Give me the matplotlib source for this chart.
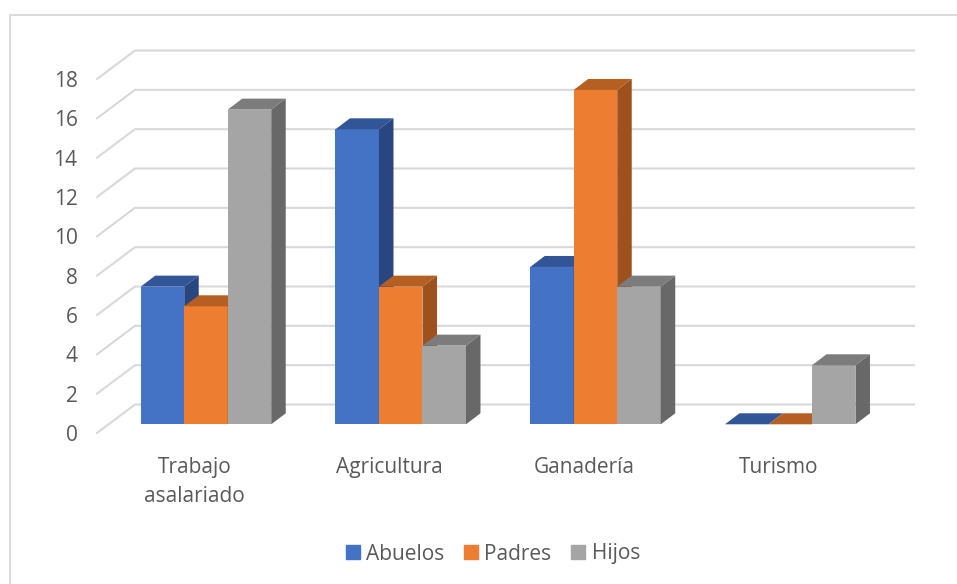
#!/usr/bin/env python3
import numpy as np
import matplotlib
matplotlib.use("Agg")
import matplotlib.pyplot as plt
from matplotlib.patches import Patch

categories = ["Trabajo\nasalariado", "Agricultura", "Ganadería", "Turismo"]
abuelos = [7, 15, 8, 0]
padres = [6, 7, 17, 0]
hijos = [16, 4, 7, 3]
y_ticks = [0, 2, 4, 6, 8, 10, 12, 14, 16, 18]

W, H = 957, 584
LEFT, RIGHT = 97, 876  # front edge of the floor, px
Y0, Y18 = 433, 79

plt.rcParams["font.family"] = ["Open Sans", "DejaVu Sans"]

series = [
    ("Abuelos", abuelos, "#4472C4", "#325597", "#2A4680"),
    ("Padres", padres, "#ED7D31", "#B55F23", "#9E511C"),
    ("Hijos", hijos, "#A5A5A5", "#7C7C7C", "#686868"),
]

fig = plt.figure(figsize=(W / 100, H / 100), dpi=100)
ax = fig.add_axes([LEFT / W, 1 - Y0 / H, (RIGHT - LEFT) / W, (Y0 - Y18) / H])
ax.set_xlim(-0.5, 3.5)
ax.set_ylim(0, 18)

# px to data units
ux = 4 / (RIGHT - LEFT)
uy = 18 / (Y0 - Y18)
wall_dx, wall_dy = 38 * ux, 28.5 * uy
floor_dx, floor_dy = 11.6 * ux, 8.7 * uy
depth_dx, depth_dy = 14.5 * ux, 11 * uy
bar_w = 43.5 * ux

# walls
grid_color = "#D9D9D9"
for v in y_ticks:
    ax.plot([-0.5, -0.5 + wall_dx, 3.5 + wall_dx], [v, v + wall_dy, v + wall_dy],
            color=grid_color, lw=1.5, clip_on=False, zorder=1, solid_joinstyle="miter")

# bars, left to right so each front hides the side of the previous one
for i, (name, values, front, top, side) in enumerate(series):
    x = np.arange(len(categories)) + floor_dx + (i - 1) * bar_w
    ax.bar(x, values, bar_w, bottom=floor_dy, color=front, zorder=2 + i, clip_on=False)
    for xc, v in zip(x, values):
        x0, x1 = xc - bar_w / 2, xc + bar_w / 2
        y0, y1 = floor_dy, floor_dy + v
        ax.fill([x0, x1, x1 + depth_dx, x0 + depth_dx],
                [y1, y1, y1 + depth_dy, y1 + depth_dy],
                color=top, lw=0, zorder=2 + i, clip_on=False)
        if v > 0:
            ax.fill([x1, x1 + depth_dx, x1 + depth_dx, x1],
                    [y0, y0 + depth_dy, y1 + depth_dy, y1],
                    color=side, lw=0, zorder=2 + i, clip_on=False)

for spine in ax.spines.values():
    spine.set_visible(False)
ax.patch.set_visible(False)

ax.set_yticks(y_ticks)
ax.set_xticks(np.arange(len(categories)))
ax.set_xticklabels(categories, linespacing=1.5)
ax.tick_params(axis="both", length=0, labelsize=15, labelcolor="#595959")
ax.tick_params(axis="x", pad=17.5)
ax.tick_params(axis="y", pad=14)

# chart frame: only top and left edges show in the picture
fig.add_artist(plt.Line2D([9.5 / W, 9.5 / W, 1], [0, 1 - 14.5 / H, 1 - 14.5 / H],
                          color=grid_color, lw=1.4))

handles = [Patch(color=s[2], label=s[0]) for s in series]
fig.legend(handles=handles, loc="center", bbox_to_anchor=(493 / W, 1 - 554 / H), ncol=3,
           frameon=False, fontsize=15, labelcolor="#595959", handlelength=0.67,
           handleheight=0.67, handletextpad=0.3, columnspacing=0.95)

fig.savefig("out.png", dpi=100)
plt.close(fig)
